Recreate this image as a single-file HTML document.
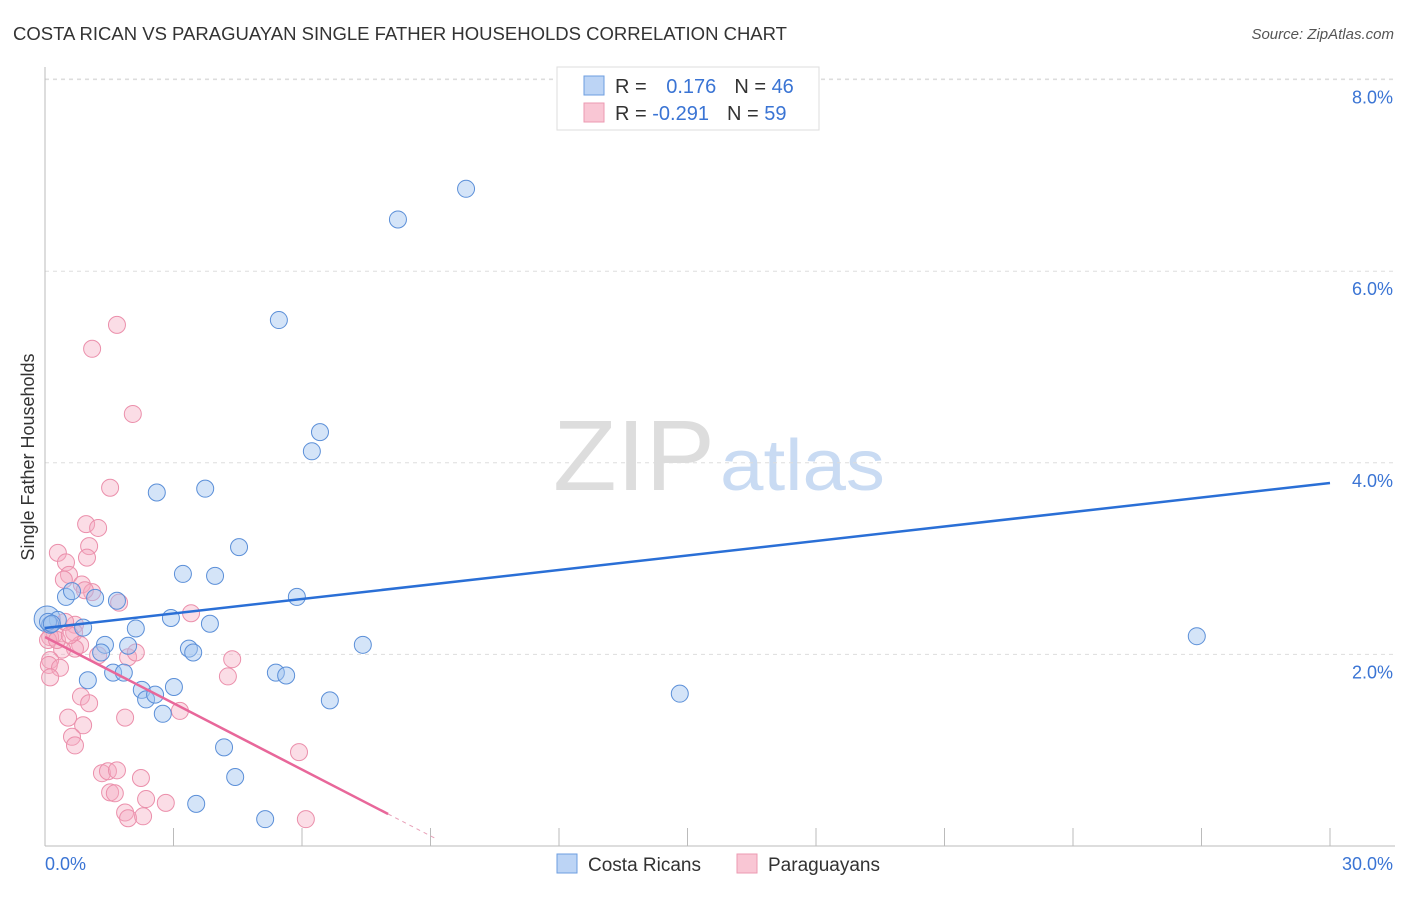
<!DOCTYPE html>
<html><head><meta charset="utf-8"><style>
body{margin:0;background:#fff;font-family:"Liberation Sans",sans-serif}
svg text{font-family:"Liberation Sans",sans-serif}
</style></head><body>
<svg id="chart" width="1406" height="892" xmlns="http://www.w3.org/2000/svg">
<text x="13" y="40" font-size="18" fill="#333" textLength="774" lengthAdjust="spacingAndGlyphs">COSTA RICAN VS PARAGUAYAN SINGLE FATHER HOUSEHOLDS CORRELATION CHART</text>
<text x="1394" y="39" font-size="15" fill="#555" font-style="italic" text-anchor="end">Source: ZipAtlas.com</text>
<g>
<text x="553" y="490" font-size="100" fill="#ddd" font-family="Liberation Serif" textLength="162" lengthAdjust="spacingAndGlyphs">ZIP</text>
<text x="720" y="490" font-size="72" fill="#c9dbf3" textLength="165" lengthAdjust="spacingAndGlyphs">atlas</text>
</g>
<g id="grid"></g>
<g id="axes"></g>
<g id="pts"></g>
<g id="lines"></g>
<text transform="translate(34,457) rotate(-90)" font-size="18" fill="#333" text-anchor="middle">Single Father Households</text>
<g>
<rect x="557" y="67" width="262" height="63" fill="#fff" stroke="#ddd"/>
<rect x="584" y="76" width="20" height="19" fill="#bcd4f5" stroke="#6d9ee0"/>
<rect x="584" y="103" width="20" height="19" fill="#f9c6d4" stroke="#ec9ab2"/>
<text x="615" y="93" font-size="20" fill="#333">R = <tspan fill="#3a74d4" dx="14">0.176</tspan><tspan dx="18" fill="#333">N = </tspan><tspan fill="#3a74d4">46</tspan></text>
<text x="615" y="120" font-size="20" fill="#333">R = <tspan fill="#3a74d4">-0.291</tspan><tspan dx="18" fill="#333">N = </tspan><tspan fill="#3a74d4">59</tspan></text>
</g>
<g>
<rect x="557" y="854" width="20" height="19" fill="#bcd4f5" stroke="#6d9ee0"/>
<text x="588" y="871" font-size="19" fill="#333">Costa Ricans</text>
<rect x="737" y="854" width="20" height="19" fill="#f9c6d4" stroke="#ec9ab2"/>
<text x="768" y="871" font-size="19" fill="#333">Paraguayans</text>
</g>
</svg>
<script>
const yTicks=[2,4,6,8];
const yTickLabels=["2.0%","4.0%","6.0%","8.0%"];
const xTicks=[3,6,9,12,15,18,21,24,27,30];
const blueX=[9.83,8.24,5.46,6.42,6.23,2.61,3.74,4.53,3.22,3.97,5.88,0.49,0.63,1.17,1.68,2.94,3.85,2.12,0.89,0.30,0.12,0.07,1.40,1.94,3.36,3.46,7.42,1.31,1.00,1.59,1.84,5.39,5.63,2.26,2.36,2.57,3.01,2.75,6.65,14.82,26.89,4.18,4.44,3.53,5.14,0.16];
const blueY=[6.86,6.54,5.49,4.32,4.12,3.69,3.73,3.12,2.84,2.82,2.60,2.60,2.66,2.59,2.56,2.38,2.32,2.27,2.28,2.36,2.31,2.34,2.10,2.09,2.06,2.02,2.10,2.02,1.73,1.81,1.81,1.81,1.78,1.63,1.53,1.58,1.66,1.38,1.52,1.59,2.19,1.03,0.72,0.44,0.28,2.32];
const pinkX=[1.68,1.10,2.05,1.52,0.96,1.24,0.30,1.03,0.98,0.49,0.56,0.44,0.86,1.10,0.93,1.73,3.41,0.70,0.68,0.23,0.12,0.82,0.70,0.40,1.24,1.94,2.12,0.12,0.09,0.35,4.37,4.27,0.12,0.84,1.03,3.15,0.54,1.87,0.89,0.63,0.70,5.93,1.33,1.47,1.68,2.24,1.52,1.63,2.36,2.82,1.87,1.94,2.29,6.09,0.07,0.28,0.47,0.58];
const pinkY=[5.44,5.19,4.51,3.74,3.36,3.32,3.06,3.13,3.01,2.96,2.83,2.78,2.73,2.65,2.67,2.54,2.43,2.31,2.23,2.22,2.18,2.10,2.06,2.05,1.99,1.97,2.02,1.94,1.89,1.86,1.95,1.77,1.76,1.56,1.49,1.41,1.34,1.34,1.26,1.14,1.05,0.98,0.76,0.78,0.79,0.71,0.56,0.55,0.49,0.45,0.35,0.29,0.31,0.28,2.15,2.15,2.34,2.20];
const blueTrend=[2.276,3.789];
const pinkTrend=[2.182,0.334,8.01,9.1];
const NS="http://www.w3.org/2000/svg";
const X=v=>45+v/30*1285, Y=v=>846-v*95.8;
function mk(tag,parent,attrs){const e=document.createElementNS(NS,tag);for(const k in attrs)e.setAttribute(k,attrs[k]);parent.appendChild(e);return e;}
const grid=document.getElementById('grid'),axes=document.getElementById('axes'),pts=document.getElementById('pts'),lines=document.getElementById('lines');
yTicks.forEach((t,i)=>{
 const l=mk('line',grid,{x1:45,x2:1395,y1:Y(t),y2:Y(t),stroke:'#ddd','stroke-dasharray':'4,4'});
 
 
 const tx=mk('text',axes,{x:1393,y:Y(t)+24,'font-size':18,fill:'#3a74d4','text-anchor':'end'});
 tx.textContent=yTickLabels[i];
 
 
});
const tl=mk('line',grid,{x1:45,x2:1395,y1:79,y2:79,stroke:'#ddd','stroke-dasharray':'4,4'});


const ya=mk('line',axes,{x1:45,x2:45,y1:67,y2:846,stroke:'#bbb'});


const xa=mk('line',axes,{x1:45,x2:1395,y1:846,y2:846,stroke:'#bbb'});


xTicks.forEach(t=>{
 const l=mk('line',axes,{x1:X(t),x2:X(t),y1:828,y2:846,stroke:'#bbb'});
 
 
});
const x0=mk('text',axes,{x:45,y:870,'font-size':18,fill:'#3a74d4'});x0.textContent='0.0%';


const x1=mk('text',axes,{x:1393,y:870,'font-size':18,fill:'#3a74d4','text-anchor':'end'});x1.textContent='30.0%';


const big=mk('circle',pts,{cx:X(0.05),cy:Y(2.37),r:13,fill:'rgba(150,188,238,0.45)',stroke:'#5b8fd8','stroke-width':1});


pinkX.forEach((v,i)=>{
 const c=mk('circle',pts,{cx:X(v),cy:Y(pinkY[i]),r:8.5,fill:'rgba(246,170,192,0.4)',stroke:'#eb8fab','stroke-width':1});
 
 
});
blueX.forEach((v,i)=>{
 const c=mk('circle',pts,{cx:X(v),cy:Y(blueY[i]),r:8.5,fill:'rgba(160,196,240,0.45)',stroke:'#5b8fd8','stroke-width':1});
 
 
});
const bl=mk('line',lines,{x1:X(0),y1:Y(blueTrend[0]),x2:X(30),y2:Y(blueTrend[1]),stroke:'#2a6fd6','stroke-width':2.5});


const pslope=(pinkTrend[1]-pinkTrend[0])/pinkTrend[2];
const pl=mk('line',lines,{x1:X(0),y1:Y(pinkTrend[0]),x2:X(pinkTrend[2]),y2:Y(pinkTrend[1]),stroke:'#e8679a','stroke-width':2.5});


const pd=mk('line',lines,{x1:X(pinkTrend[2]),y1:Y(pinkTrend[1]),x2:X(pinkTrend[3]),y2:Y(pinkTrend[0]+pslope*pinkTrend[3]),stroke:'#e8a0b8','stroke-width':1,'stroke-dasharray':'4,4'});


</script>
</body></html>
